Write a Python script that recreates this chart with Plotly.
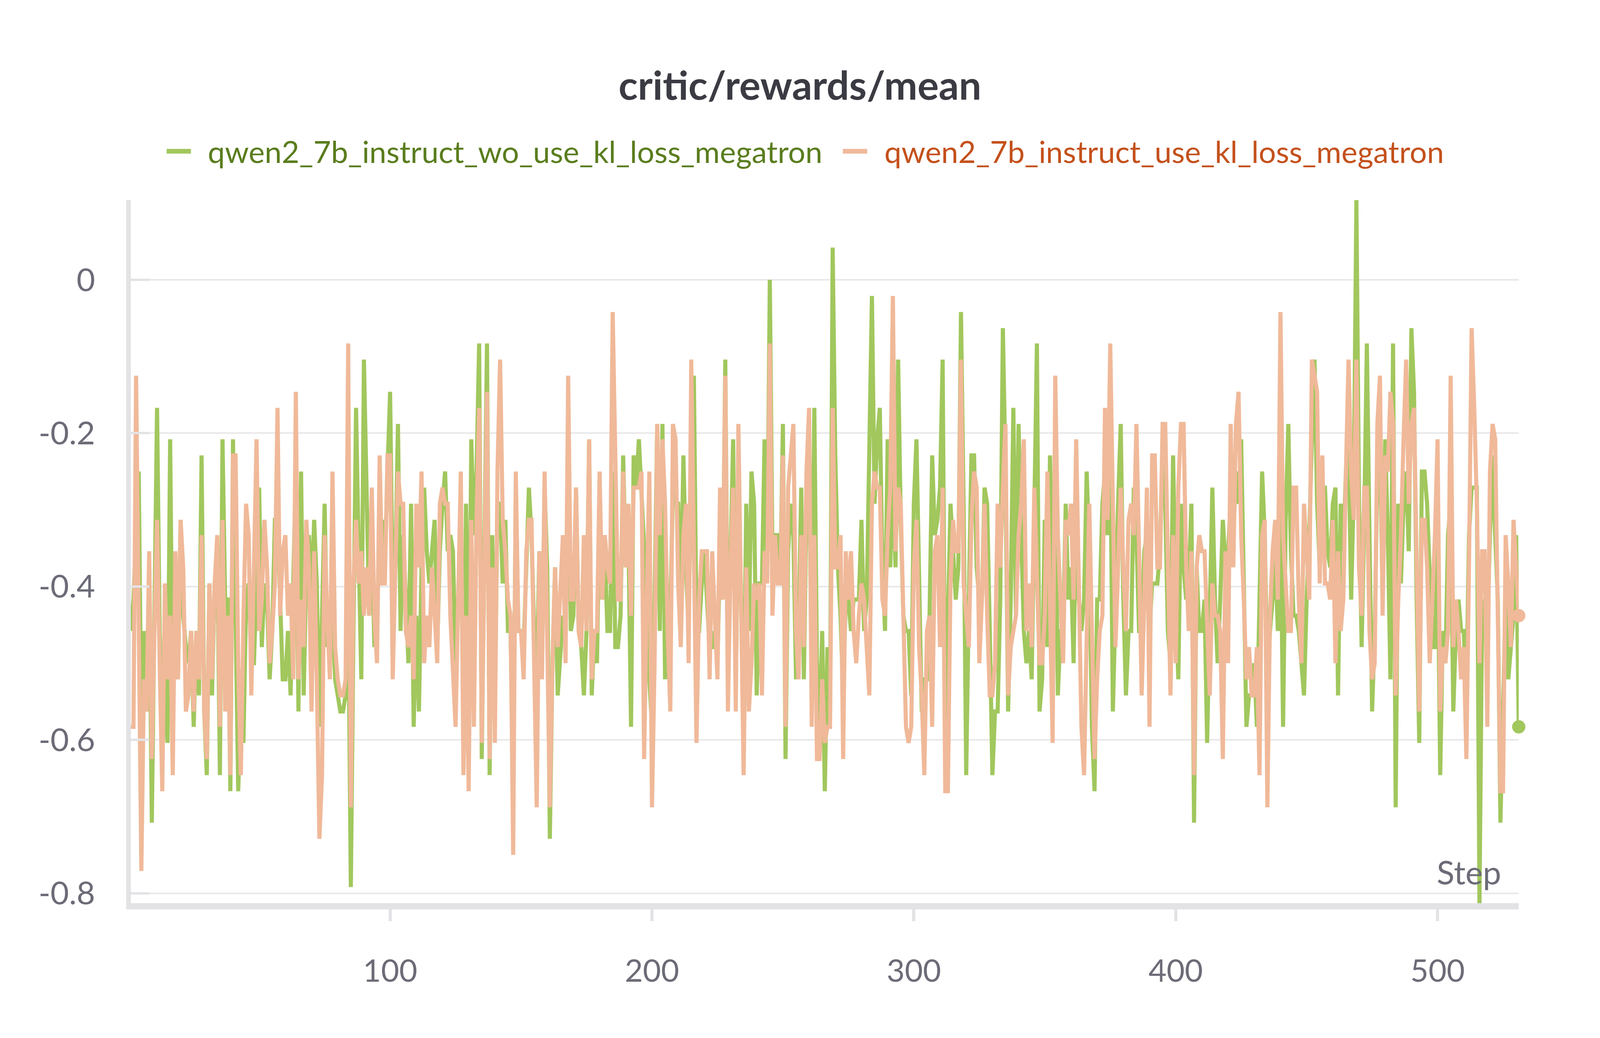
import plotly.graph_objects as go

steps = list(range(1, 532))

wo_kl_name = "qwen2_7b_instruct_wo_use_kl_loss_megatron"
use_kl_name = "qwen2_7b_instruct_use_kl_loss_megatron"

wo_kl_rewards = [
    -0.458, -0.417, -0.333, -0.25, -0.583, -0.458, -0.563, -0.375, -0.708, -0.417,
    -0.167, -0.458, -0.625, -0.521, -0.604, -0.208, -0.563, -0.375, -0.521, -0.313,
    -0.438, -0.479, -0.5, -0.458, -0.583, -0.458, -0.542, -0.229, -0.563, -0.646,
    -0.396, -0.542, -0.396, -0.354, -0.646, -0.208, -0.417, -0.417, -0.667, -0.208,
    -0.417, -0.667, -0.542, -0.604, -0.417, -0.396, -0.5, -0.5, -0.396, -0.271,
    -0.479, -0.396, -0.417, -0.521, -0.458, -0.313, -0.313, -0.438, -0.521, -0.521,
    -0.458, -0.542, -0.417, -0.25, -0.563, -0.25, -0.542, -0.375, -0.333, -0.417,
    -0.313, -0.396, -0.583, -0.458, -0.292, -0.479, -0.458, -0.438, -0.521, -0.542,
    -0.563, -0.563, -0.542, -0.417, -0.792, -0.458, -0.167, -0.354, -0.521, -0.104,
    -0.292, -0.438, -0.333, -0.479, -0.417, -0.375, -0.313, -0.375, -0.25, -0.146,
    -0.417, -0.375, -0.188, -0.458, -0.333, -0.417, -0.5, -0.292, -0.583, -0.438,
    -0.563, -0.375, -0.271, -0.354, -0.396, -0.354, -0.313, -0.479, -0.354, -0.292,
    -0.25, -0.354, -0.333, -0.354, -0.5, -0.417, -0.313, -0.583, -0.292, -0.625,
    -0.208, -0.333, -0.25, -0.083, -0.625, -0.354, -0.083, -0.646, -0.333, -0.563,
    -0.292, -0.292, -0.396, -0.313, -0.458, -0.458, -0.667, -0.271, -0.458, -0.458,
    -0.479, -0.375, -0.271, -0.333, -0.458, -0.521, -0.354, -0.5, -0.271, -0.375,
    -0.729, -0.5, -0.375, -0.542, -0.479, -0.438, -0.458, -0.208, -0.458, -0.438,
    -0.271, -0.458, -0.479, -0.542, -0.458, -0.208, -0.542, -0.458, -0.5, -0.292,
    -0.417, -0.354, -0.458, -0.458, -0.25, -0.479, -0.479, -0.438, -0.229, -0.375,
    -0.333, -0.583, -0.229, -0.271, -0.208, -0.271, -0.354, -0.417, -0.521, -0.583,
    -0.417, -0.188, -0.458, -0.188, -0.521, -0.396, -0.438, -0.271, -0.292, -0.292,
    -0.438, -0.229, -0.375, -0.458, -0.208, -0.125, -0.458, -0.458, -0.396, -0.354,
    -0.417, -0.479, -0.479, -0.458, -0.5, -0.354, -0.417, -0.104, -0.521, -0.375,
    -0.208, -0.542, -0.25, -0.417, -0.583, -0.292, -0.458, -0.25, -0.292, -0.542,
    -0.396, -0.396, -0.208, -0.375, 0.0, -0.354, -0.333, -0.333, -0.396, -0.188,
    -0.625, -0.354, -0.292, -0.333, -0.521, -0.458, -0.271, -0.521, -0.292, -0.25,
    -0.5, -0.167, -0.5, -0.583, -0.458, -0.667, -0.479, -0.563, 0.042, -0.229,
    -0.375, -0.438, -0.542, -0.417, -0.417, -0.458, -0.417, -0.417, -0.417, -0.313,
    -0.458, -0.417, -0.25, -0.021, -0.292, -0.208, -0.167, -0.375, -0.458, -0.208,
    -0.375, -0.25, -0.375, -0.104, -0.313, -0.438, -0.458, -0.458, -0.542, -0.292,
    -0.208, -0.417, -0.563, -0.521, -0.521, -0.438, -0.229, -0.333, -0.313, -0.271,
    -0.104, -0.604, -0.417, -0.292, -0.354, -0.417, -0.375, -0.042, -0.292, -0.646,
    -0.417, -0.229, -0.229, -0.375, -0.417, -0.417, -0.271, -0.292, -0.458, -0.646,
    -0.563, -0.563, -0.417, -0.063, -0.25, -0.563, -0.417, -0.167, -0.438, -0.188,
    -0.333, -0.458, -0.5, -0.458, -0.521, -0.313, -0.083, -0.563, -0.521, -0.313,
    -0.479, -0.229, -0.417, -0.25, -0.542, -0.458, -0.458, -0.292, -0.417, -0.375,
    -0.5, -0.292, -0.417, -0.458, -0.417, -0.25, -0.354, -0.583, -0.667, -0.417,
    -0.417, -0.292, -0.25, -0.333, -0.208, -0.563, -0.417, -0.292, -0.188, -0.417,
    -0.542, -0.458, -0.458, -0.271, -0.333, -0.458, -0.458, -0.354, -0.333, -0.458,
    -0.396, -0.396, -0.396, -0.354, -0.208, -0.292, -0.458, -0.5, -0.229, -0.417,
    -0.521, -0.292, -0.375, -0.417, -0.396, -0.292, -0.708, -0.375, -0.458, -0.458,
    -0.417, -0.604, -0.458, -0.271, -0.417, -0.5, -0.417, -0.313, -0.375, -0.354,
    -0.292, -0.333, -0.25, -0.292, -0.208, -0.417, -0.583, -0.542, -0.542, -0.5,
    -0.583, -0.417, -0.25, -0.333, -0.521, -0.458, -0.417, -0.354, -0.458, -0.292,
    -0.583, -0.313, -0.188, -0.354, -0.438, -0.438, -0.458, -0.5, -0.542, -0.417,
    -0.333, -0.208, -0.104, -0.292, -0.375, -0.271, -0.271, -0.354, -0.375, -0.292,
    -0.271, -0.542, -0.292, -0.354, -0.25, -0.208, -0.417, -0.271, 0.104, -0.292,
    -0.479, -0.313, -0.083, -0.333, -0.563, -0.458, -0.25, -0.208, -0.417, -0.208,
    -0.333, -0.521, -0.083, -0.688, -0.292, -0.396, -0.292, -0.25, -0.354, -0.063,
    -0.146, -0.417, -0.604, -0.25, -0.25, -0.292, -0.375, -0.479, -0.479, -0.333,
    -0.646, -0.458, -0.5, -0.333, -0.292, -0.563, -0.458, -0.417, -0.458, -0.458,
    -0.542, -0.333, -0.271, -0.271, -0.271, -0.813, -0.438, -0.417, -0.458, -0.333,
    -0.229, -0.333, -0.417, -0.708, -0.583, -0.417, -0.521, -0.479, -0.438, -0.333,
    -0.583,
]

use_kl_rewards = [
    -0.583, -0.583, -0.125, -0.417, -0.771, -0.521, -0.563, -0.354, -0.625, -0.458,
    -0.313, -0.5, -0.667, -0.396, -0.521, -0.438, -0.646, -0.354, -0.521, -0.313,
    -0.375, -0.563, -0.542, -0.458, -0.563, -0.458, -0.521, -0.333, -0.563, -0.625,
    -0.396, -0.521, -0.396, -0.333, -0.583, -0.313, -0.563, -0.438, -0.646, -0.229,
    -0.229, -0.5, -0.646, -0.438, -0.292, -0.333, -0.542, -0.375, -0.208, -0.458,
    -0.417, -0.313, -0.375, -0.5, -0.458, -0.396, -0.167, -0.438, -0.354, -0.333,
    -0.438, -0.396, -0.521, -0.146, -0.521, -0.417, -0.479, -0.313, -0.375, -0.563,
    -0.354, -0.521, -0.729, -0.646, -0.333, -0.438, -0.521, -0.25, -0.479, -0.521,
    -0.542, -0.542, -0.521, -0.083, -0.688, -0.396, -0.313, -0.396, -0.354, -0.438,
    -0.375, -0.438, -0.271, -0.438, -0.5, -0.229, -0.396, -0.396, -0.229, -0.229,
    -0.521, -0.375, -0.25, -0.292, -0.292, -0.458, -0.479, -0.438, -0.521, -0.292,
    -0.375, -0.25, -0.5, -0.438, -0.479, -0.375, -0.438, -0.5, -0.292, -0.271,
    -0.292, -0.292, -0.438, -0.5, -0.583, -0.417, -0.25, -0.646, -0.438, -0.667,
    -0.313, -0.583, -0.313, -0.167, -0.604, -0.375, -0.146, -0.625, -0.375, -0.604,
    -0.25, -0.104, -0.313, -0.354, -0.417, -0.438, -0.75, -0.25, -0.458, -0.458,
    -0.521, -0.354, -0.313, -0.313, -0.521, -0.688, -0.354, -0.521, -0.25, -0.458,
    -0.688, -0.5, -0.375, -0.479, -0.417, -0.333, -0.5, -0.125, -0.417, -0.417,
    -0.271, -0.458, -0.479, -0.333, -0.458, -0.208, -0.521, -0.458, -0.458, -0.25,
    -0.417, -0.333, -0.375, -0.396, -0.042, -0.25, -0.417, -0.417, -0.25, -0.375,
    -0.292, -0.438, -0.271, -0.271, -0.271, -0.25, -0.625, -0.417, -0.25, -0.688,
    -0.5, -0.188, -0.333, -0.208, -0.292, -0.458, -0.563, -0.188, -0.208, -0.396,
    -0.479, -0.333, -0.292, -0.5, -0.104, -0.354, -0.604, -0.417, -0.354, -0.354,
    -0.354, -0.521, -0.354, -0.438, -0.521, -0.271, -0.417, -0.125, -0.563, -0.375,
    -0.271, -0.563, -0.188, -0.417, -0.646, -0.375, -0.563, -0.5, -0.396, -0.417,
    -0.396, -0.542, -0.354, -0.396, -0.083, -0.438, -0.333, -0.396, -0.396, -0.229,
    -0.583, -0.271, -0.229, -0.188, -0.458, -0.521, -0.333, -0.479, -0.25, -0.167,
    -0.583, -0.333, -0.625, -0.625, -0.521, -0.604, -0.583, -0.583, -0.167, -0.375,
    -0.375, -0.333, -0.625, -0.354, -0.417, -0.354, -0.458, -0.5, -0.438, -0.396,
    -0.417, -0.479, -0.542, -0.292, -0.25, -0.271, -0.271, -0.417, -0.438, -0.333,
    -0.271, -0.021, -0.354, -0.271, -0.292, -0.438, -0.583, -0.604, -0.583, -0.375,
    -0.313, -0.479, -0.542, -0.646, -0.458, -0.438, -0.583, -0.354, -0.333, -0.479,
    -0.271, -0.667, -0.667, -0.396, -0.313, -0.354, -0.354, -0.104, -0.396, -0.438,
    -0.479, -0.313, -0.25, -0.271, -0.5, -0.417, -0.292, -0.438, -0.542, -0.542,
    -0.5, -0.292, -0.375, -0.271, -0.188, -0.542, -0.479, -0.458, -0.438, -0.333,
    -0.292, -0.208, -0.458, -0.396, -0.479, -0.271, -0.375, -0.5, -0.5, -0.438,
    -0.25, -0.417, -0.604, -0.125, -0.333, -0.417, -0.5, -0.313, -0.333, -0.292,
    -0.417, -0.208, -0.417, -0.583, -0.646, -0.458, -0.292, -0.458, -0.625, -0.521,
    -0.458, -0.438, -0.167, -0.313, -0.083, -0.292, -0.479, -0.375, -0.271, -0.375,
    -0.458, -0.313, -0.292, -0.333, -0.188, -0.354, -0.542, -0.417, -0.271, -0.583,
    -0.229, -0.229, -0.375, -0.375, -0.188, -0.188, -0.375, -0.542, -0.333, -0.5,
    -0.271, -0.188, -0.188, -0.375, -0.458, -0.354, -0.646, -0.375, -0.333, -0.354,
    -0.354, -0.438, -0.542, -0.396, -0.438, -0.438, -0.458, -0.625, -0.354, -0.5,
    -0.188, -0.375, -0.188, -0.146, -0.333, -0.417, -0.521, -0.479, -0.542, -0.542,
    -0.479, -0.646, -0.333, -0.313, -0.688, -0.438, -0.354, -0.313, -0.417, -0.042,
    -0.333, -0.396, -0.458, -0.458, -0.271, -0.271, -0.417, -0.5, -0.292, -0.354,
    -0.417, -0.104, -0.125, -0.146, -0.396, -0.229, -0.396, -0.396, -0.417, -0.313,
    -0.5, -0.354, -0.458, -0.417, -0.25, -0.104, -0.25, -0.313, -0.104, -0.375,
    -0.438, -0.271, -0.271, -0.458, -0.521, -0.5, -0.188, -0.125, -0.438, -0.229,
    -0.25, -0.146, -0.188, -0.542, -0.417, -0.333, -0.208, -0.104, -0.292, -0.188,
    -0.167, -0.375, -0.563, -0.313, -0.313, -0.375, -0.5, -0.417, -0.333, -0.208,
    -0.563, -0.479, -0.5, -0.458, -0.125, -0.479, -0.417, -0.458, -0.521, -0.479,
    -0.625, -0.375, -0.063, -0.167, -0.292, -0.5, -0.354, -0.354, -0.583, -0.25,
    -0.188, -0.208, -0.458, -0.667, -0.667, -0.333, -0.396, -0.479, -0.313, -0.375,
    -0.438,
]

y_ticks = [0, -0.2, -0.4, -0.6, -0.8]
y_tick_text = ["0", "-0.2", "-0.4", "-0.6", "-0.8"]
x_ticks = [100, 200, 300, 400, 500]

GREEN = "#a1c75d"
ORANGE = "#f0b999"
GREEN_TEXT = "#5a7d1e"
ORANGE_TEXT = "#c4511c"
TICK_GRAY = "#6c6c78"
AXIS_GRAY = "#e3e3e6"
FONT = "Lato, Noto Sans, sans-serif"

fig = go.Figure()
for name, ys, color in [(wo_kl_name, wo_kl_rewards, GREEN), (use_kl_name, use_kl_rewards, ORANGE)]:
    fig.add_trace(go.Scatter(
        x=steps, y=ys, mode="lines", name=name,
        line=dict(color=color, width=10.5),
    ))
# dot on the last logged point of each run
for ys, color in [(wo_kl_rewards, GREEN), (use_kl_rewards, ORANGE)]:
    fig.add_trace(go.Scatter(
        x=[steps[-1]], y=[ys[-1]], mode="markers", cliponaxis=False,
        marker=dict(color=color, size=34), showlegend=False,
    ))

all_vals = wo_kl_rewards + use_kl_rewards

# hand-made legend so the swatches scale with the big canvas
legend_y = 1.0695
for x0, x1, tx, text, lc, tc in [
    (0.0258, 0.0433, 0.0549, wo_kl_name, GREEN, GREEN_TEXT),
    (0.5130, 0.5306, 0.5424, use_kl_name, ORANGE, ORANGE_TEXT),
]:
    fig.add_shape(type="line", xref="paper", yref="paper", x0=x0, x1=x1,
                  y0=legend_y, y1=legend_y, line=dict(color=lc, width=12))
    fig.add_annotation(xref="paper", yref="paper", x=tx, y=legend_y, text=text,
                       showarrow=False, xanchor="left", yanchor="middle",
                       font=dict(family=FONT, size=78, color=tc))

fig.add_annotation(xref="paper", yref="paper", x=0.988, y=0.0445, text="Step",
                   showarrow=False, xanchor="right", yanchor="middle",
                   font=dict(family=FONT, size=84, color=TICK_GRAY))

fig.update_layout(
    width=4080, height=2640,
    margin=dict(l=327, r=200, t=504, b=337),
    paper_bgcolor="white", plot_bgcolor="white",
    showlegend=False,
    font=dict(family=FONT, color=TICK_GRAY),
    title=dict(text="<b>critic/rewards/mean</b>", x=0.5, xref="container",
               y=0.920, yref="container", xanchor="center", yanchor="middle",
               font=dict(family=FONT, size=102, color="#3b3b43")),
)
fig.update_xaxes(
    range=[steps[0], steps[-1]], tickvals=x_ticks,
    showgrid=False, zeroline=False,
    showline=True, linecolor=AXIS_GRAY, linewidth=16,
    ticks="outside", ticklen=30, tickwidth=8, tickcolor=AXIS_GRAY,
    ticklabelstandoff=59,
    tickfont=dict(family=FONT, size=80, color=TICK_GRAY),
)
fig.update_yaxes(
    range=[min(all_vals), max(all_vals)],
    tickvals=y_ticks, ticktext=y_tick_text,
    showgrid=True, gridcolor="#e8e8ea", gridwidth=4, zeroline=False,
    showline=True, linecolor=AXIS_GRAY, linewidth=12,
    ticks="inside", ticklen=47, tickwidth=6, tickcolor=AXIS_GRAY,
    ticklabelstandoff=63,
    tickfont=dict(family=FONT, size=82, color=TICK_GRAY),
)

fig.write_html("out.html")
